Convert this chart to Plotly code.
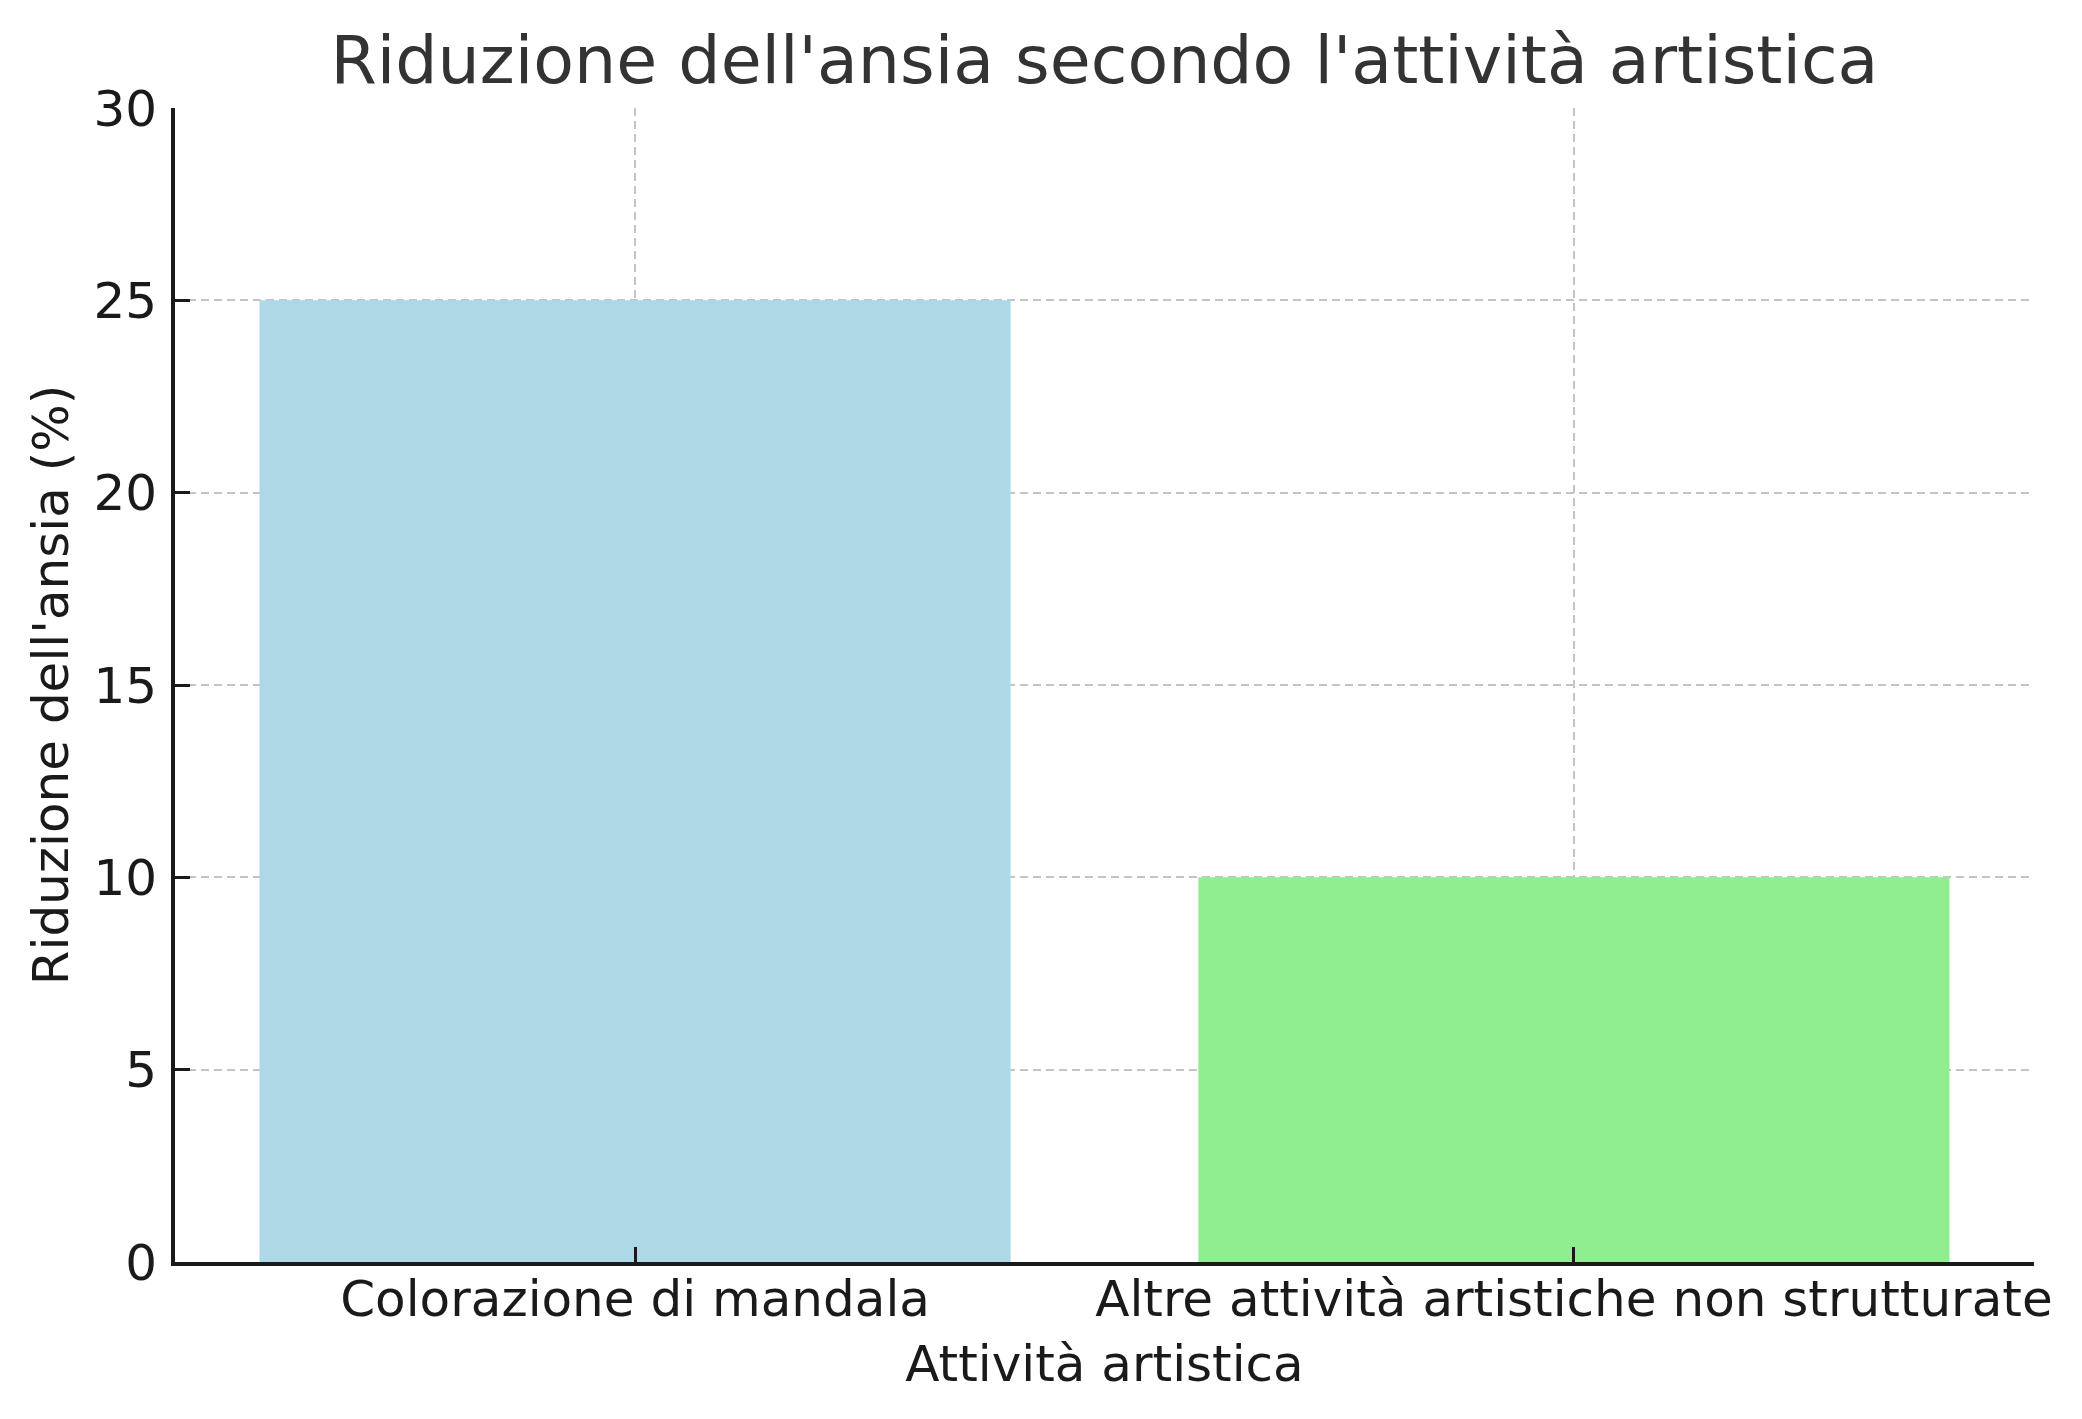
import plotly.graph_objects as go

# Dati
attivita = ["Colorazione di mandala", "Altre attività artistiche non strutturate"]
riduzione = [25, 10]
colori = ["lightblue", "lightgreen"]
y_ticks = [0, 5, 10, 15, 20, 25, 30]

font_family = "DejaVu Sans"

fig = go.Figure()
fig.add_trace(go.Bar(
    x=attivita,
    y=riduzione,
    marker_color=colori,
    marker_line_width=0,
    width=0.8,
))

grid_style = dict(
    showgrid=True,
    gridcolor="#c4c4c4",
    gridwidth=2,
    griddash="8px,5px",
)

# la pagina ha un piccolo margine nel body, quindi si compensa qui
fig.update_layout(
    width=2082,
    height=1419,
    margin=dict(l=167, r=56, t=100, b=165),
    plot_bgcolor="white",
    paper_bgcolor="white",
    showlegend=False,
    bargap=0.2,
    font=dict(family=font_family, color="#1a1a1a", size=50),
    title=dict(
        text="Riduzione dell'ansia secondo l'attività artistica",
        font=dict(family=font_family, size=66.6, color="#333333"),
        x=0.5,
        xref="paper",
        xanchor="center",
        y=1 - 52 / 1419,
        yanchor="middle",
        yref="container",
    ),
)

fig.update_xaxes(
    range=[-0.49, 1.49],
    showline=True,
    linecolor="#1a1a1a",
    linewidth=4,
    ticks="inside",
    ticklen=15,
    tickwidth=3,
    tickcolor="#1a1a1a",
    tickfont=dict(size=50, color="#1a1a1a"),
    ticklabelstandoff=-10,
    title=dict(text="Attività artistica", font=dict(size=50, color="#1a1a1a"), standoff=20),
    layer="above traces",
    zeroline=False,
    **grid_style,
)

fig.update_yaxes(
    range=[0, 30],
    tickvals=y_ticks,
    showline=True,
    linecolor="#1a1a1a",
    linewidth=4,
    ticks="inside",
    ticklen=15,
    tickwidth=3,
    tickcolor="#1a1a1a",
    tickfont=dict(size=50, color="#1a1a1a"),
    ticklabelstandoff=4,
    title=dict(text="Riduzione dell'ansia (%)", font=dict(size=50, color="#1a1a1a"), standoff=10),
    layer="above traces",
    zeroline=False,
    **grid_style,
)

fig.write_html("out.html")
